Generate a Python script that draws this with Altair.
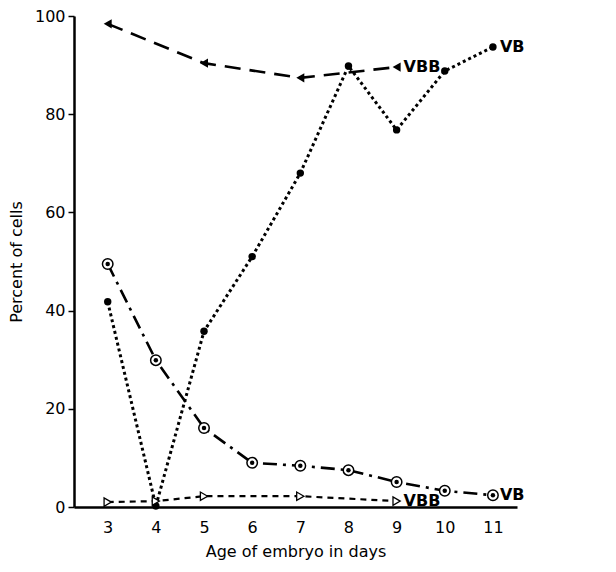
import altair as alt
import pandas as pd

# Data
days_a = [3, 5, 7, 9]
vbb_top = [98.4, 90.4, 87.4, 89.6]           # dashed, filled triangles

days_b = [3, 4, 5, 6, 7, 8, 9, 10, 11]
vb_top = [41.8, 0.2, 35.8, 51.0, 68.0, 89.8, 76.8, 88.8, 93.7]  # dotted, filled dots

days_c = [3, 4, 5, 6, 7, 8, 9, 10, 11]
vb_bottom = [49.5, 29.9, 16.1, 9.0, 8.4, 7.5, 5.1, 3.3, 2.4]    # dash-dot, circled dots

days_d = [3, 4, 5, 7, 9]
vbb_bottom = [1.0, 1.2, 2.2, 2.2, 1.2]       # short dashes, open triangles

labels_text = ["VBB", "VB", "VB", "VBB"]
labels_x = [9, 11, 11, 9]
labels_y = [89.6, 93.7, 2.4, 1.2]

FONT = "DejaVu Sans"
xs = alt.Scale(domain=[2.3, 11.5], nice=False, zero=False)
ys = alt.Scale(domain=[0, 100], nice=False)

dfa = pd.DataFrame({"day": days_a, "pct": vbb_top})
dfb = pd.DataFrame({"day": days_b, "pct": vb_top})
dfc = pd.DataFrame({"day": days_c, "pct": vb_bottom})
dfd = pd.DataFrame({"day": days_d, "pct": vbb_bottom})
dfl = pd.DataFrame({"day": labels_x, "pct": labels_y, "t": labels_text})

X = alt.X("day:Q", scale=xs,
          axis=alt.Axis(title="Age of embryo in days", values=list(range(3, 12)),
                        ticks=False, labelPadding=12, titlePadding=8))
Y = alt.Y("pct:Q", scale=ys,
          axis=alt.Axis(title="Percent of cells", values=[0, 20, 40, 60, 80, 100],
                        tickSize=6, labelPadding=3, titlePadding=10))

def line(df, dash, width):
    return alt.Chart(df).mark_line(color="black", strokeDash=dash, strokeWidth=width).encode(x=X, y=Y)

la = line(dfa, [16, 9], 2.6)
pa = alt.Chart(dfa).mark_point(shape="triangle-left", filled=True, color="black", size=85, opacity=1).encode(x=X, y=Y)

lb = line(dfb, [3, 3], 3)
pb = alt.Chart(dfb).mark_point(shape="circle", filled=True, color="black", size=55, opacity=1).encode(x=X, y=Y)

lc = line(dfc, [14, 6, 3, 6], 2.6)
pc_o = alt.Chart(dfc).mark_point(shape="circle", filled=True, fill="white", stroke="black",
                                 strokeWidth=1.5, size=110, opacity=1).encode(x=X, y=Y)
pc_i = alt.Chart(dfc).mark_point(shape="circle", filled=True, color="black", size=20, opacity=1).encode(x=X, y=Y)

ld = line(dfd, [6, 5], 2.2)
pd_ = alt.Chart(dfd).mark_point(shape="triangle-right", filled=True, fill="white", stroke="black",
                                strokeWidth=1.3, size=70, opacity=1).encode(x=X, y=Y)

txt = alt.Chart(dfl).mark_text(align="left", baseline="middle", dx=7, fontSize=16,
                               fontWeight="bold", font=FONT, color="black").encode(x=X, y=Y, text="t:N")

chart = alt.layer(la, lb, lc, ld, pa, pb, pc_o, pc_i, pd_, txt).properties(
    width=443, height=491,
    padding={"left": 0, "top": 0, "right": 5, "bottom": 6}
).configure_view(stroke=None).configure_axis(
    grid=False, domainColor="black", domainWidth=2.5, tickColor="black", tickWidth=1.5,
    labelFont=FONT, labelFontSize=16, labelColor="black", titleFont=FONT, titleFontSize=16,
    titleFontWeight="normal", titleColor="black"
)

chart.save("out.html", embed_options={"renderer": "svg", "actions": False})
